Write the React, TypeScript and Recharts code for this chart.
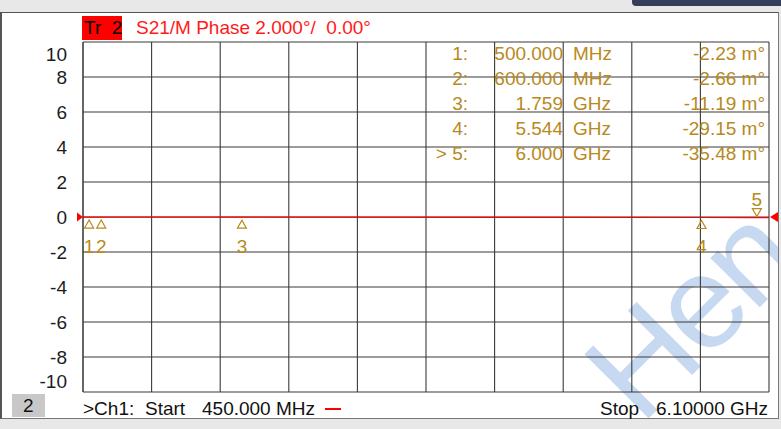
import { ComposedChart, Line, Scatter, XAxis, YAxis, CartesianGrid, ReferenceDot } from 'recharts';

// trace (frequency in MHz, phase in degrees)
const FREQ_MHZ = [450, 500, 600, 1759, 5544, 6000, 6100];
const PHASE_DEG = [-0.0021, -0.00223, -0.00266, -0.01119, -0.02915, -0.03548, -0.0362];

const X_TICKS = [450, 1015, 1580, 2145, 2710, 3275, 3840, 4405, 4970, 5535, 6100];
const Y_TICKS = [-10, -8, -6, -4, -2, 0, 2, 4, 6, 8, 10];

// markers
const MARKER_IDS = ['1', '2', '3', '4', '5'];
const MARKER_FREQ = [500, 600, 1759, 5544, 6000];
const MARKER_PHASE = [-0.00223, -0.00266, -0.01119, -0.02915, -0.03548];
const MARKER_FREQ_TEXT = ['500.000', '600.000', '1.759', '5.544', '6.000'];
const MARKER_UNIT = ['MHz', 'MHz', 'GHz', 'GHz', 'GHz'];
const MARKER_VALUE_TEXT = ['-2.23 m°', '-2.66 m°', '-11.19 m°', '-29.15 m°', '-35.48 m°'];
const ACTIVE_MARKER = 4;

const START = 450;
const STOP = 6100;

const FONT = '"Liberation Sans", Arial, sans-serif';
const GOLD = '#b8891c';
const RED = '#ff0000';

const trace = FREQ_MHZ.map((f, i) => ({ f, phase: PHASE_DEG[i] }));
const markers = MARKER_FREQ.map((f, i) => ({
  f,
  phase: MARKER_PHASE[i],
  id: MARKER_IDS[i],
  active: i === ACTIVE_MARKER,
}));

const YTick = (props: any) => {
  const { x, y, payload } = props;
  const v = payload.value;
  const dy = v === 10 ? 12 : v === -10 ? -11 : 0;
  return (
    <text x={x} y={y + dy} textAnchor="end" dominantBaseline="central" fontFamily={FONT} fontSize={19} fill="#1c1c24">
      {v}
    </text>
  );
};

const NoTick = () => <g />;

const MarkerShape = (props: any) => {
  const { cx, cy, payload } = props;
  if (payload.active) {
    return (
      <g>
        <polygon points={`${cx - 4.5},${cy - 9} ${cx + 4.5},${cy - 9} ${cx},${cy - 1}`} fill="none" stroke={GOLD} strokeWidth={1.2} />
        <text x={cx} y={cy - 18} textAnchor="middle" dominantBaseline="central" fontFamily={FONT} fontSize={19} fill={GOLD}>
          {payload.id}
        </text>
      </g>
    );
  }
  return (
    <g>
      <polygon points={`${cx - 4.5},${cy + 11} ${cx + 4.5},${cy + 11} ${cx},${cy + 3}`} fill="none" stroke={GOLD} strokeWidth={1.2} />
      <text x={cx} y={cy + 29} textAnchor="middle" dominantBaseline="central" fontFamily={FONT} fontSize={19} fill={GOLD}>
        {payload.id}
      </text>
    </g>
  );
};

const LeftArrow = (props: any) => {
  const { cx, cy } = props;
  return <polygon points={`${cx - 6},${cy - 4.5} ${cx - 6},${cy + 4.5} ${cx},${cy}`} fill={RED} />;
};

const RightArrow = (props: any) => {
  const { cx, cy } = props;
  return <polygon points={`${cx + 9},${cy - 5} ${cx + 9},${cy + 5} ${cx + 1},${cy}`} fill={RED} />;
};

const txt = (left: number, cy: number, s: string, color: string, extra: any = {}) => (
  <div
    style={{
      position: 'absolute',
      left,
      top: cy - 12,
      height: 24,
      lineHeight: '24px',
      fontFamily: FONT,
      fontSize: 19,
      color,
      whiteSpace: 'pre',
      ...extra,
    }}
  >
    {s}
  </div>
);

const rtxt = (right: number, cy: number, s: string, color: string) =>
  txt(0, cy, s, color, { left: undefined, right: 781 - right, textAlign: 'right' });

const ROW_Y = [54, 79, 104, 129, 154];

export default function App() {
  return (
    <div style={{ position: 'absolute', left: 0, top: 0, width: 781, height: 429, background: '#e8e8e8', overflow: 'hidden' }}>
      <div style={{ position: 'absolute', left: 632, top: 0, width: 149, height: 6, background: '#34405a', borderBottomLeftRadius: 4 }} />
      <div
        style={{
          position: 'absolute',
          left: 0,
          top: 12,
          width: 776,
          height: 405,
          background: '#ffffff',
          borderTop: '1px solid #555',
          borderLeft: '2px solid #555',
          borderRight: '1px solid #777',
          borderBottom: '1px solid #777',
          overflow: 'hidden',
        }}
      >
        {/* watermark */}
        <svg width={781} height={429} style={{ position: 'absolute', left: -2, top: -13 }}>
          <text
            x={641}
            y={426}
            transform="rotate(-45 641 426)"
            fontFamily={FONT}
            fontSize={132}
            letterSpacing={-5}
            fill="#c6d9f0"
          >
            Hen
          </text>
        </svg>
      </div>

      <div style={{ position: 'absolute', left: 0, top: 0 }}>
        <ComposedChart width={781} height={429} margin={{ top: 42, right: 12, bottom: 37, left: 23 }}>
          <CartesianGrid stroke="#3a3a3a" strokeWidth={1.1} />
          <XAxis
            dataKey="f"
            type="number"
            domain={[START, STOP]}
            ticks={X_TICKS}
            interval={0}
            allowDataOverflow
            height={0}
            tick={<NoTick />}
            axisLine={false}
            tickLine={false}
          />
          <YAxis
            type="number"
            domain={[-10, 10]}
            ticks={Y_TICKS}
            interval={0}
            allowDataOverflow
            width={60}
            tick={<YTick />}
            tickSize={0}
            tickMargin={16}
            axisLine={{ stroke: '#3a3a3a' }}
            tickLine={false}
          />
          <Line data={trace} dataKey="phase" stroke={RED} strokeWidth={1.2} dot={false} isAnimationActive={false} />
          <Scatter data={markers} dataKey="phase" shape={<MarkerShape />} isAnimationActive={false} />
          <ReferenceDot x={START} y={0} ifOverflow="visible" shape={<LeftArrow />} />
          <ReferenceDot x={STOP} y={0} ifOverflow="visible" shape={<RightArrow />} />
        </ComposedChart>
      </div>

      {/* header */}
      <div style={{ position: 'absolute', left: 82, top: 16, width: 40, height: 24, background: '#ff0000' }} />
      {txt(84, 28, 'Tr  2', '#000')}
      {txt(136, 28, 'S21/M Phase 2.000°/  0.00°', '#ff1a1a')}

      {/* marker table */}
      {MARKER_IDS.map((id, i) => (
        <div key={id}>
          {rtxt(468, ROW_Y[i], (i === ACTIVE_MARKER ? '> ' : '') + id + ':', GOLD)}
          {rtxt(563, ROW_Y[i], MARKER_FREQ_TEXT[i], GOLD)}
          {txt(573, ROW_Y[i], MARKER_UNIT[i], GOLD)}
          {rtxt(765, ROW_Y[i], MARKER_VALUE_TEXT[i], GOLD)}
        </div>
      ))}

      {/* footer */}
      <div style={{ position: 'absolute', left: 12, top: 394, width: 33, height: 23, background: '#c8c8c8' }} />
      {txt(23, 406, '2', '#111')}
      {txt(83, 409, '>Ch1:', '#111')}
      {txt(145, 409, 'Start', '#111')}
      {txt(202, 409, '450.000 MHz', '#111')}
      <div style={{ position: 'absolute', left: 325, top: 408, width: 16, height: 2, background: RED }} />
      {txt(600, 409, 'Stop', '#111')}
      {rtxt(768, 409, '6.10000 GHz', '#111')}
    </div>
  );
}
